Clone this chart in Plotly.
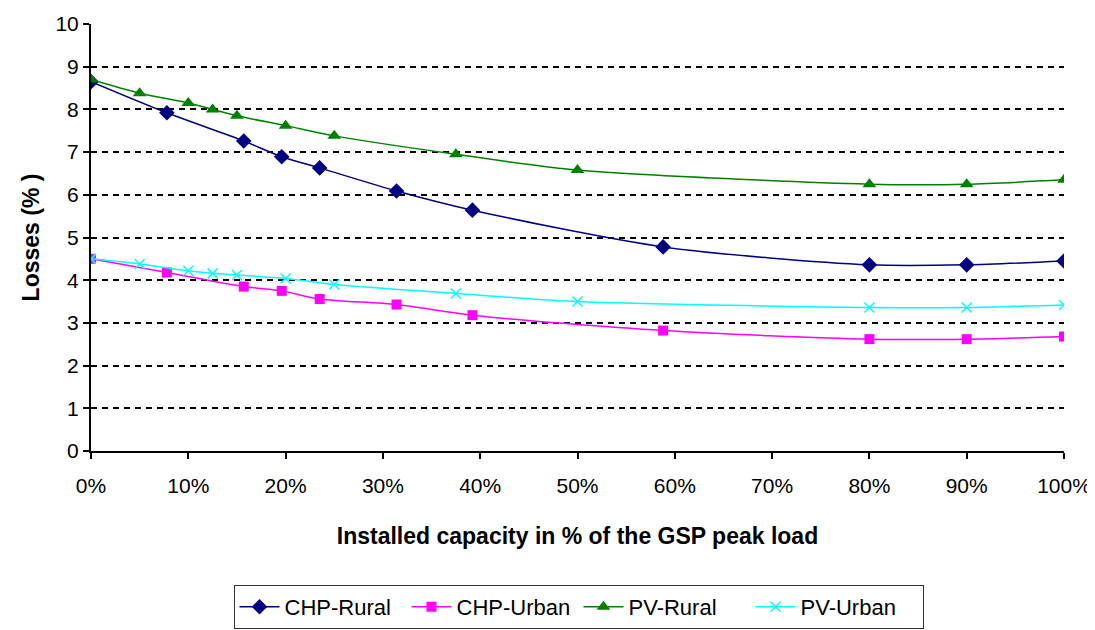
import plotly.graph_objects as go

# Data
chp_x = [0, 7.8, 15.7, 19.6, 23.5, 31.4, 39.2, 58.8, 80, 90, 100]
chp_rural = [8.65, 7.92, 7.26, 6.89, 6.63, 6.09, 5.64, 4.78, 4.36, 4.36, 4.45]
chp_urban = [4.5, 4.18, 3.85, 3.75, 3.56, 3.43, 3.18, 2.82, 2.62, 2.62, 2.68]

pv_x = [0, 5, 10, 12.5, 15, 20, 25, 37.5, 50, 80, 90, 100]
pv_rural = [8.7, 8.38, 8.15, 8.0, 7.85, 7.62, 7.38, 6.95, 6.58, 6.25, 6.25, 6.35]
pv_urban = [4.5, 4.38, 4.22, 4.16, 4.12, 4.04, 3.9, 3.69, 3.5, 3.36, 3.36, 3.42]

x_ticks = [0, 10, 20, 30, 40, 50, 60, 70, 80, 90, 100]
x_labels = ["0%", "10%", "20%", "30%", "40%", "50%", "60%", "70%", "80%", "90%", "100%"]
y_ticks = [0, 1, 2, 3, 4, 5, 6, 7, 8, 9, 10]

FONT = "Liberation Sans, Arial, sans-serif"

fig = go.Figure()
fig.add_trace(go.Scatter(
    x=chp_x, y=chp_rural, name="CHP-Rural", mode="lines+markers",
    line=dict(color="#000080", width=1.5, shape="spline", smoothing=0.8),
    marker=dict(symbol="diamond", size=12, color="#000080")))
fig.add_trace(go.Scatter(
    x=chp_x, y=chp_urban, name="CHP-Urban", mode="lines+markers",
    line=dict(color="#FF00FF", width=1.5, shape="spline", smoothing=0.8),
    marker=dict(symbol="square", size=10, color="#FF00FF")))
fig.add_trace(go.Scatter(
    x=pv_x, y=pv_rural, name="PV-Rural", mode="lines+markers",
    line=dict(color="#008000", width=1.5, shape="spline", smoothing=0.8),
    marker=dict(symbol="triangle-up", size=12, color="#008000")))
fig.add_trace(go.Scatter(
    x=pv_x, y=pv_urban, name="PV-Urban", mode="lines+markers",
    line=dict(color="#00FFFF", width=1.5, shape="spline", smoothing=0.8),
    marker=dict(symbol="x-thin", size=10, color="#00FFFF",
                line=dict(color="#00FFFF", width=1.5))))

W, H = 1087, 622  # page body has an 8px margin

fig.update_layout(
    width=W, height=H,
    paper_bgcolor="white", plot_bgcolor="white",
    margin=dict(l=83, r=31, t=16, b=179),
    font=dict(family=FONT, size=21, color="black"),
    showlegend=True,
    legend=dict(
        orientation="h", xref="container", yref="container",
        x=570.5 / W, xanchor="center", y=(H - 577) / H, yanchor="top",
        bordercolor="#333333", borderwidth=1, bgcolor="white",
        font=dict(family=FONT, size=22, color="black"),
        entrywidth=117, entrywidthmode="pixels",
        itemwidth=40, tracegroupgap=0),
    xaxis=dict(
        range=[0, 100], tickmode="array", tickvals=x_ticks, ticktext=x_labels,
        showgrid=False, zeroline=False,
        showline=True, linecolor="black", linewidth=2,
        ticks="outside", ticklen=6, tickcolor="black", tickwidth=1.5,
        ticklabelstandoff=9,
        tickfont=dict(size=21),
        title=dict(text="<b>Installed capacity in % of the GSP peak load</b>",
                   font=dict(size=23), standoff=32),
        automargin=False),
    yaxis=dict(
        range=[0, 10], tickvals=y_ticks,
        showgrid=True, gridcolor="black", gridwidth=1.8, griddash="6px,5px",
        zeroline=False,
        showline=True, linecolor="black", linewidth=2,
        ticks="outside", ticklen=6, tickcolor="black", tickwidth=1.5,
        tickfont=dict(size=21),
        title=dict(text="<b>Losses (% )</b>", font=dict(size=23), standoff=9),
        automargin=False),
)

fig.write_html("out.html")
